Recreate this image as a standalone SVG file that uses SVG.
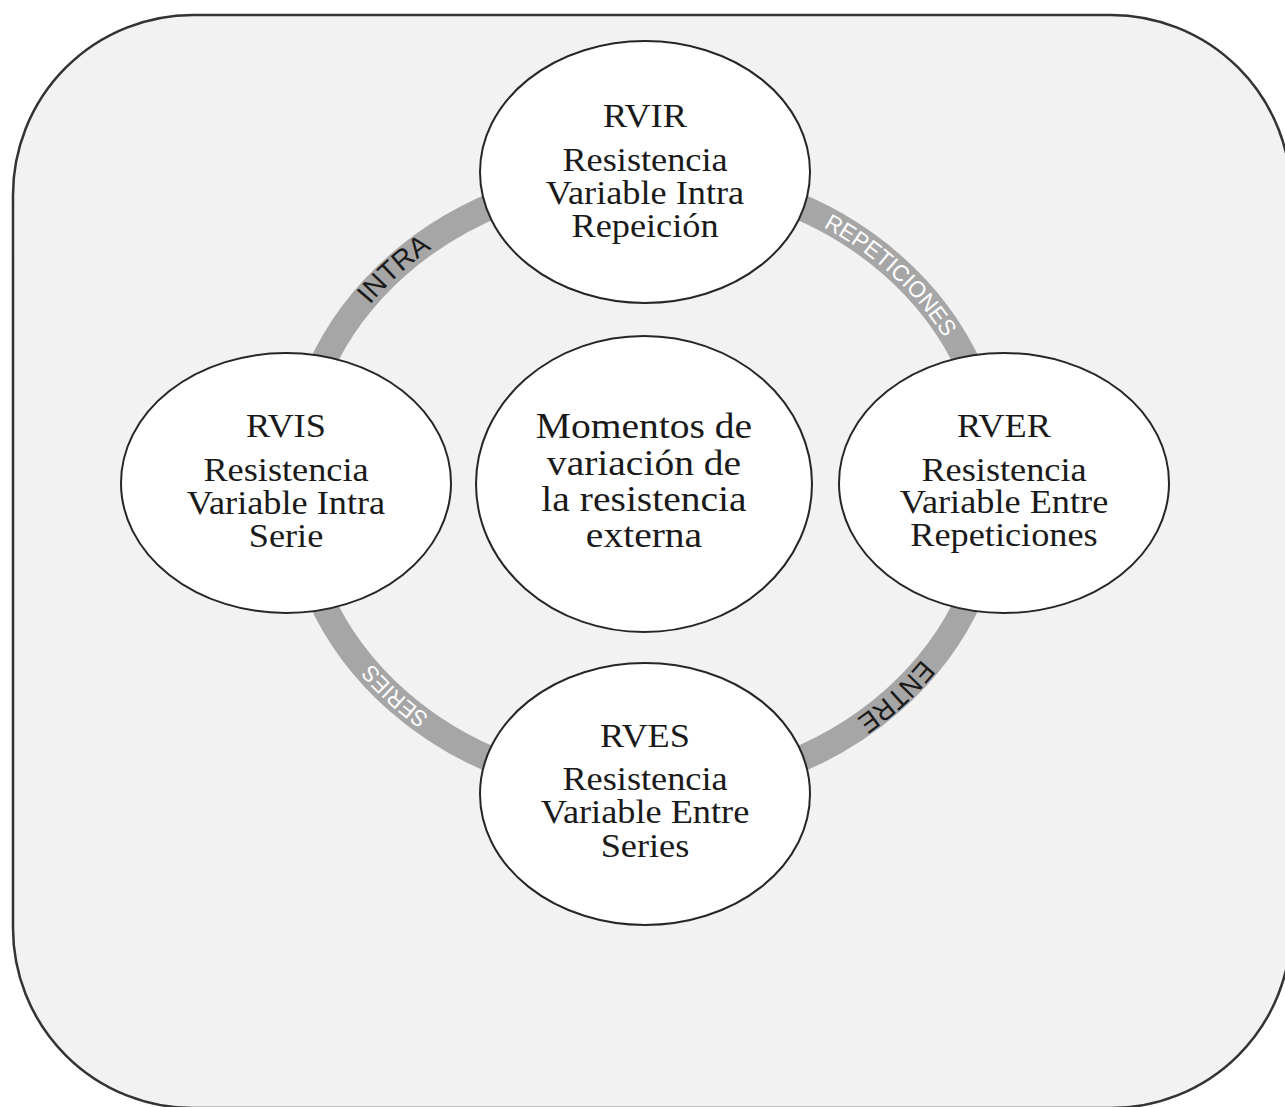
<svg xmlns="http://www.w3.org/2000/svg" xmlns:xlink="http://www.w3.org/1999/xlink" width="1285" height="1107" viewBox="0 0 1285 1107">
  <style>
    .frame { fill: #f2f2f2; stroke: #333333; stroke-width: 2.5; }
    .ring { fill: none; stroke: #a6a6a6; stroke-width: 26; }
    .node { fill: #ffffff; stroke: #262626; stroke-width: 2; }
    .t { font-family: "Liberation Serif", "Times New Roman", serif; font-size: 33px; fill: #1a1a1a; text-anchor: middle; }
    .tc { font-size: 35px; }
    .lbl { font-family: "Liberation Sans", Arial, sans-serif; text-anchor: middle; }
    .dark { fill: #1a1a1a; font-size: 28px; }
    .light { fill: #ffffff; font-size: 23px; }
  </style>
  <defs>
    <path id="ringText" d="M 303 483 A 342 300 0 0 1 987 483 A 342 300 0 0 1 303 483 Z"/>
  </defs>
  <rect width="1285" height="1107" fill="#ffffff"/>
  <rect class="frame" x="13" y="15" width="1278" height="1093" rx="180" ry="180"/>

  <g id="connectors">
    <ellipse class="ring" cx="645" cy="483" rx="350" ry="308"/>
    <text class="lbl dark"><textPath xlink:href="#ringText" href="#ringText" startOffset="11.7%" textLength="84" lengthAdjust="spacingAndGlyphs">INTRA</textPath></text>
    <text class="lbl light"><textPath xlink:href="#ringText" href="#ringText" startOffset="38.3%" textLength="166" lengthAdjust="spacingAndGlyphs">REPETICIONES</textPath></text>
    <text class="lbl dark"><textPath xlink:href="#ringText" href="#ringText" startOffset="61.7%" textLength="89" lengthAdjust="spacingAndGlyphs">ENTRE</textPath></text>
    <text class="lbl light"><textPath xlink:href="#ringText" href="#ringText" startOffset="88.3%" textLength="78" lengthAdjust="spacingAndGlyphs">SERIES</textPath></text>
  </g>

  <g id="node-rvir">
    <ellipse class="node" cx="645" cy="172" rx="165" ry="131"/>
    <g transform="translate(645 0) scale(1.1 1)">
      <text class="t" x="0" y="127">RVIR</text>
      <text class="t" x="0" y="171">Resistencia</text>
      <text class="t" x="0" y="204">Variable Intra</text>
      <text class="t" x="0" y="237">Repeición</text>
    </g>
  </g>

  <g id="node-rvis">
    <ellipse class="node" cx="286" cy="483" rx="165" ry="130"/>
    <g transform="translate(286 0) scale(1.1 1)">
      <text class="t" x="0" y="437">RVIS</text>
      <text class="t" x="0" y="481">Resistencia</text>
      <text class="t" x="0" y="514">Variable Intra</text>
      <text class="t" x="0" y="547">Serie</text>
    </g>
  </g>

  <g id="node-center">
    <ellipse class="node" cx="644" cy="484" rx="168" ry="148"/>
    <g transform="translate(644 0) scale(1.13 1)">
      <text class="t tc" x="0" y="438">Momentos de</text>
      <text class="t tc" x="0" y="475">variación de</text>
      <text class="t tc" x="0" y="511">la resistencia</text>
      <text class="t tc" x="0" y="547">externa</text>
    </g>
  </g>

  <g id="node-rver">
    <ellipse class="node" cx="1004" cy="483" rx="165" ry="130"/>
    <g transform="translate(1004 0) scale(1.1 1)">
      <text class="t" x="0" y="437">RVER</text>
      <text class="t" x="0" y="481">Resistencia</text>
      <text class="t" x="0" y="513">Variable Entre</text>
      <text class="t" x="0" y="546">Repeticiones</text>
    </g>
  </g>

  <g id="node-rves">
    <ellipse class="node" cx="645" cy="794" rx="165" ry="131"/>
    <g transform="translate(645 0) scale(1.1 1)">
      <text class="t" x="0" y="747">RVES</text>
      <text class="t" x="0" y="790">Resistencia</text>
      <text class="t" x="0" y="823">Variable Entre</text>
      <text class="t" x="0" y="857">Series</text>
    </g>
  </g>
</svg>
